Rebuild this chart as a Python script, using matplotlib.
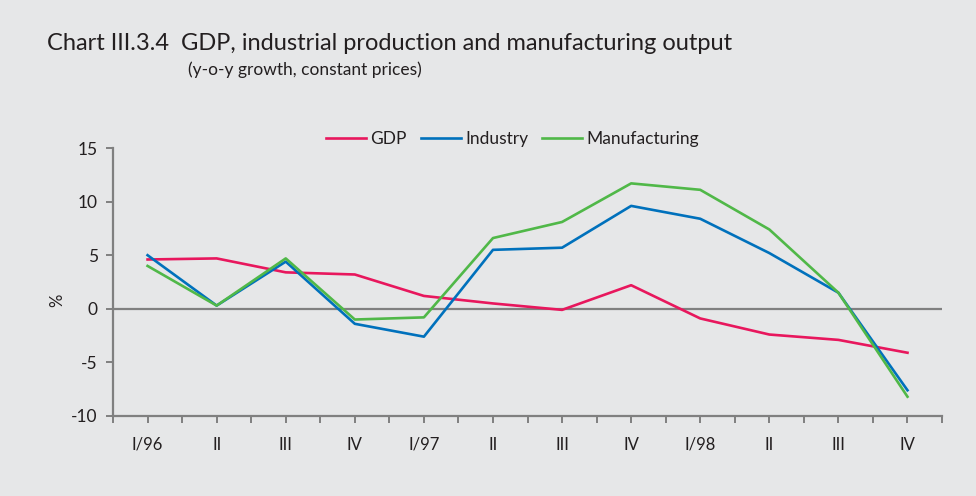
import matplotlib
matplotlib.use("Agg")
import matplotlib.pyplot as plt
import numpy as np

# quarters 1996Q1 .. 1998Q4
quarters = ["I/96", "II", "III", "IV", "I/97", "II", "III", "IV", "I/98", "II", "III", "IV"]
gdp = [4.6, 4.7, 3.4, 3.2, 1.2, 0.5, -0.1, 2.2, -0.9, -2.4, -2.9, -4.1]
industry = [5.0, 0.3, 4.4, -1.4, -2.6, 5.5, 5.7, 9.6, 8.4, 5.2, 1.5, -7.6]
manufacturing = [4.0, 0.3, 4.7, -1.0, -0.8, 6.6, 8.1, 11.7, 11.1, 7.4, 1.5, -8.2]

BG = "#E6E7E8"
AXIS = "#808080"
TXT = "#231F20"

plt.rcParams["font.family"] = ["Lato", "DejaVu Sans"]

fig = plt.figure(figsize=(9.76, 4.96), dpi=100, facecolor=BG)
ax = fig.add_axes([0.1158, 0.1613, 0.8494, 0.5403], facecolor=BG)

x = np.arange(len(quarters))
ax.plot(x, gdp, color="#E8175D", lw=1.9, label="GDP")
ax.plot(x, industry, color="#0071BC", lw=1.9, label="Industry")
ax.plot(x, manufacturing, color="#50B848", lw=1.9, label="Manufacturing")
ax.axhline(0, color=AXIS, lw=1.6, zorder=1)

ax.set_xlim(-0.5, len(quarters) - 0.5)
ax.set_ylim(-10, 15)
ax.set_yticks([-10, -5, 0, 5, 10, 15])
ax.set_yticklabels(["-10", "-5", "0", "5", "10", "15"])
ax.set_xticks(x)
ax.set_xticklabels(quarters)
ax.set_xticks(np.arange(-0.5, len(quarters), 1.0), minor=True)

for s in ["top", "right"]:
    ax.spines[s].set_visible(False)
for s in ["left", "bottom"]:
    ax.spines[s].set_color(AXIS)
    ax.spines[s].set_linewidth(1.6)

ax.tick_params(axis="y", direction="out", length=5, width=1.4, color=AXIS,
               labelsize=12.5, labelcolor=TXT, pad=6)
ax.tick_params(axis="x", which="both", direction="out", length=5, width=1.4,
               color=AXIS, labelsize=12, labelcolor=TXT, pad=10)

ax.set_ylabel("%", fontsize=12, color=TXT, labelpad=4)
ax.yaxis.set_label_coords(-0.058, 0.43)

ax.legend(loc="center", bbox_to_anchor=(0.482, 1.034), ncol=3, frameon=False,
          fontsize=12.5, handlelength=2.3, handletextpad=0.25, columnspacing=0.8,
          labelcolor=TXT)

fig.text(0.048, 0.9, "Chart III.3.4  GDP, industrial production and manufacturing output",
         fontsize=17, color=TXT, va="baseline")
fig.text(0.193, 0.848, "(y-o-y growth, constant prices)", fontsize=12.5, color=TXT,
         va="baseline")

fig.savefig("out.png", dpi=100, facecolor=BG)
